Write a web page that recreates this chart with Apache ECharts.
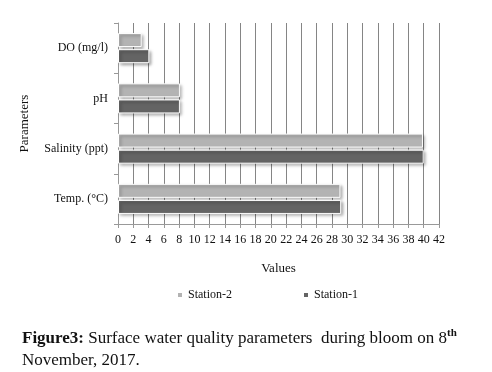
<!DOCTYPE html>
<html>
<head>
<meta charset="utf-8">
<script src="https://cdn.jsdelivr.net/npm/echarts@6/dist/echarts.min.js"></script>
<style>
  html, body { margin: 0; padding: 0; background: #fff; }
  #chart { width: 492px; height: 372px; }
</style>
</head>
<body>
<div id="chart"></div>
<script>
// data
var categories = ['Temp. (°C)', 'Salinity (ppt)', 'pH', 'DO (mg/l)'];
var station1 = [29.2, 40.0, 8.1, 4.1];
var station2 = [29.1, 39.9, 8.1, 3.1];
var xTicks = [0, 42, 2]; // min, max, step

var serif = '"Liberation Serif", "DejaVu Serif", serif';

var chart = echarts.init(document.getElementById('chart'));

var barStyle = function (color) {
  return {
    color: color,
    borderColor: '#ffffff',
    borderWidth: 1,
    shadowBlur: 3,
    shadowColor: 'rgba(0,0,0,0.35)',
    shadowOffsetX: 2,
    shadowOffsetY: 2
  };
};

var option = {
  animation: false,
  textStyle: { fontFamily: serif },
  grid: { left: 118, right: 53, top: 23, bottom: 148 },
  xAxis: {
    type: 'value',
    min: xTicks[0],
    max: xTicks[1],
    interval: xTicks[2],
    name: 'Values',
    nameLocation: 'middle',
    nameGap: 38,
    nameTextStyle: { color: '#111', fontSize: 13, fontFamily: serif },
    axisLine: { show: true, lineStyle: { color: '#999' } },
    axisTick: { show: true, length: 4, lineStyle: { color: '#999' } },
    axisLabel: { color: '#111', fontSize: 12, margin: 10, fontFamily: serif },
    splitLine: { show: true, lineStyle: { color: '#858585', width: 1 } }
  },
  yAxis: {
    type: 'category',
    data: categories,
    name: 'Parameters',
    nameLocation: 'middle',
    nameGap: 87,
    nameRotate: 90,
    nameTextStyle: { color: '#111', fontSize: 13, fontFamily: serif },
    axisLine: { show: true, lineStyle: { color: '#999' } },
    axisTick: { show: true, length: 4, lineStyle: { color: '#999' } },
    axisLabel: { color: '#111', fontSize: 12, margin: 10, fontFamily: serif },
    splitLine: { show: false }
  },
  legend: {
    data: ['Station-2', 'Station-1'],
    bottom: 66,
    left: 171,
    itemGap: 70,
    itemWidth: 6,
    itemHeight: 6,
    icon: 'rect',
    textStyle: { color: '#111', fontSize: 12, fontFamily: serif }
  },
  series: [
    {
      name: 'Station-2',
      type: 'bar',
      data: station2,
      barWidth: 14,
      barGap: '15%',
      itemStyle: barStyle('#b3b3b3')
    },
    {
      name: 'Station-1',
      type: 'bar',
      data: station1,
      barWidth: 14,
      barGap: '15%',
      itemStyle: barStyle('#646464')
    }
  ],
  graphic: [
    {
      type: 'text',
      left: 22,
      top: 328,
      style: {
        text: '{b|Figure3:} Surface water quality parameters  during bloom on 8{sup|th}\nNovember, 2017.',
        fill: '#111',
        font: '17px ' + serif,
        lineHeight: 22,
        rich: {
          b: { fontWeight: 'bold', fontSize: 17, fontFamily: serif, fill: '#111' },
          sup: { fontSize: 11, fontWeight: 'bold', fontFamily: serif, verticalAlign: 'top', padding: [0, 0, 9, 0] }
        }
      }
    }
  ]
};

chart.setOption(option);
</script>
</body>
</html>
